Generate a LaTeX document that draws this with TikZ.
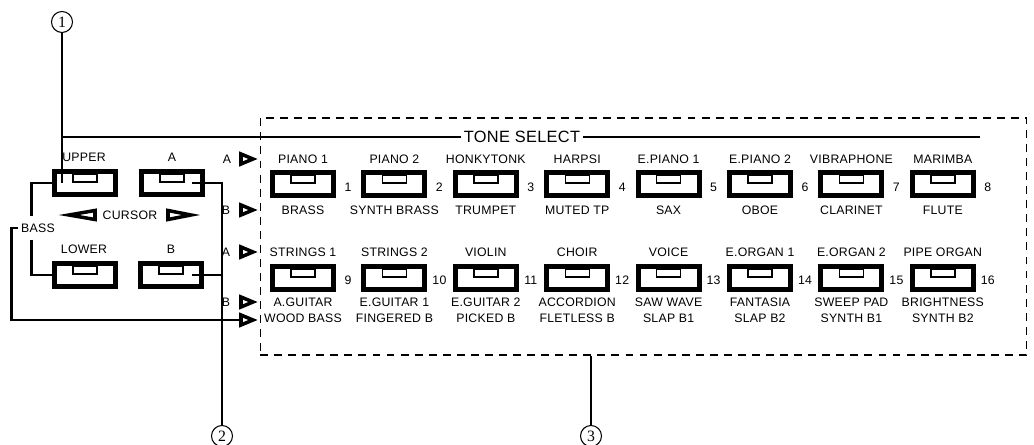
\documentclass[tikz,border=0pt]{standalone}
\usepackage{fontspec}
\newfontfamily\panelfont[LetterSpace=2]{Liberation Sans}
\newfontfamily\circfont{Liberation Serif}
\usetikzlibrary{calc}

\begin{document}
\begin{tikzpicture}[x=0.02cm, y=-0.02cm,
    key/.style={draw, line width=2.8pt, fill=white, minimum width=1.22cm, minimum height=0.46cm, inner sep=0pt,
        path picture={\draw[line width=0.8pt] ([shift={(-0.24cm,-0.05cm)}]path picture bounding box.north) rectangle ([shift={(0.24cm,-0.21cm)}]path picture bounding box.north);}},
    lbl/.style={font=\panelfont\fontsize{7}{9.1}\selectfont, inner sep=0pt, align=center},
    callout/.style={circle, draw, line width=0.6pt, minimum size=0.42cm, inner sep=0pt, font=\circfont\fontsize{9}{9}\selectfont},
    panel/.style={draw, dashed, dash pattern=on 4.5pt off 3.5pt, line width=0.6pt, minimum width=15.34cm, minimum height=4.74cm},
    wire/.style={line width=0.6pt},
    toneline/.style={line width=1.7pt},
    bassline/.style={line width=1.7pt},
    curtri/.style={line width=2pt, fill=white},
    opentri/.pic={\draw[line width=2pt, fill=white] (-8,-5) -- (4,0) -- (-8,5) -- cycle;}
]
\useasboundingbox (0,0) rectangle (1034,445);

% tone select panel
\node[panel] (panel) at (643.5,236.5) {};
\node[lbl, font=\panelfont\fontsize{9.3}{10}\selectfont, inner sep=1.5pt] (tone) at (522,137) {TONE SELECT};

% upper row of tone keys
\foreach \n/\up/\dn [count=\i from 0] in {1/PIANO 1/BRASS, 2/PIANO 2/SYNTH BRASS, 3/HONKYTONK/TRUMPET, 4/HARPSI/MUTED TP,
    5/E.PIANO 1/SAX, 6/E.PIANO 2/OBOE, 7/VIBRAPHONE/CLARINET, 8/MARIMBA/FLUTE} {
  \pgfmathsetmacro\cx{303+91.4*\i}
  \node[key] (k\n) at (\cx,184) {};
  \node[lbl] at (\cx,159) {\up};
  \node[lbl] at (\cx,210) {\dn};
  \node[lbl] at (\cx+45,187) {\n};
}

% lower row of tone keys
\foreach \n/\up/\dn [count=\i from 0] in {9/STRINGS 1/{A.GUITAR\\WOOD BASS}, 10/STRINGS 2/{E.GUITAR 1\\FINGERED B},
    11/VIOLIN/{E.GUITAR 2\\PICKED B}, 12/CHOIR/{ACCORDION\\FLETLESS B}, 13/VOICE/{SAW WAVE\\SLAP B1},
    14/E.ORGAN 1/{FANTASIA\\SLAP B2}, 15/E.ORGAN 2/{SWEEP PAD\\SYNTH B1}, 16/PIPE ORGAN/{BRIGHTNESS\\SYNTH B2}} {
  \pgfmathsetmacro\cx{303+91.4*\i}
  \node[key] (k\n) at (\cx,278) {};
  \node[lbl] at (\cx,252) {\up};
  \node[lbl] at (\cx,310) {\dn};
  \node[lbl] at (\cx+45,280) {\n};
}

% A/B markers
\pic at (249,159) {opentri};
\pic at (249,210) {opentri};
\pic at (249,252) {opentri};
\pic at (249,302) {opentri};
\pic at (249,320) {opentri};
\coordinate (bassarr) at (240,320);
\node[lbl] at (227,159) {A};
\node[lbl] at (226,210) {B};
\node[lbl] at (226,252) {A};
\node[lbl] at (226,302) {B};

% keyboard section keys
\node[key] (upper) at (85,183) {};
\node[key] (keyA)  at (172,183) {};
\node[key] (lower) at (85,275) {};
\node[key] (keyB)  at (171,275) {};
\node[lbl] at (84,157)  {UPPER};
\node[lbl] at (172,157) {A};
\node[lbl] at (84,249)  {LOWER};
\node[lbl] at (171,249) {B};
\node[lbl] (cursor) at (130,215) {CURSOR};
\draw[curtri] (95,210.5) -- (69,215) -- (95,219.5) -- cycle;
\draw[curtri] (168,210.5) -- (191,215) -- (168,219.5) -- cycle;
\node[lbl, inner xsep=1.5pt, inner ysep=4pt] (bass) at (38,228) {BASS};

% callouts
\node[callout] (c1) at (62,22)   {1};
\node[callout] (c2) at (222,436) {2};
\node[callout] (c3) at (591,436) {3};

% connections
\draw[wire] (c1.south) -- (c1.south |- upper.center);
\draw[toneline] (c1.south |- tone.west) -- (tone.west);
\coordinate (toneend) at (980,137);
\draw[toneline] (tone.east) -- (toneend);
\draw[wire] ([xshift=0.4cm]keyA.center) -| (c2.north);
\path ([xshift=0.42cm]keyB.center) coordinate (bwire);
\draw[wire] (bwire) -- (bwire -| c2.north);
\draw[wire] (c3.north |- panel.south) -- (c3.north);
\draw[bassline] (upper.west) -| ([xshift=-0.13cm]bass.north);
\draw[bassline] ([xshift=-0.13cm]bass.south) |- (lower.west);
\draw[bassline] (bass.west) -- ++(-7,0) |- (bassarr);
\end{tikzpicture}
\end{document}
